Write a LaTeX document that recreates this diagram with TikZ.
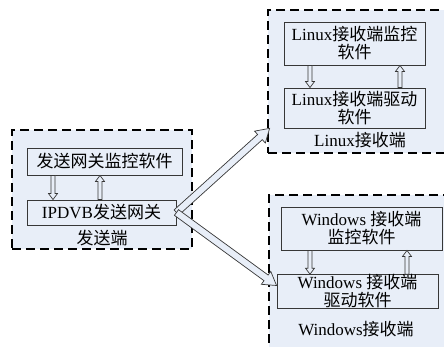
\documentclass[tikz,border=0pt]{standalone}
\usepackage{fontspec}
\setmainfont{Liberation Serif}
\newfontfamily\cjk{Noto Sans CJK SC}
\usetikzlibrary{calc}
\definecolor{bgblue}{RGB}{232,238,248}
\definecolor{edgegray}{RGB}{55,55,55}
\tikzset{
 group/.style={draw=black, line width=2.6pt, dash pattern=on 9pt off 5pt, fill=bgblue, inner sep=0pt},
 unit/.style={draw=edgegray, line width=0.9pt, fill=bgblue, inner sep=0pt, align=center, font=\fontsize{17}{18}\selectfont},
 lbl/.style={inner sep=0pt, align=center, font=\fontsize{17}{18}\selectfont},
 harrow/.style={draw=edgegray, line width=0.7pt, fill=bgblue, line join=miter},
}
\newcommand\hollowarrow[5]{%
 \path let \p1=(#1), \p2=(#2), \n1={atan2(\y2-\y1,\x2-\x1)}, \n2={veclen(\x2-\x1,\y2-\y1)} in \pgfextra{\xdef\harang{\n1}\xdef\harlen{\n2}};
 \begin{scope}[shift={(#1)}, rotate=\harang, x=1pt, y=1pt]
 \draw[harrow] (0,-#3) -- ({\harlen-#5},-#3) -- ({\harlen-#5},-#4) -- (\harlen,0) -- ({\harlen-#5},#4) -- ({\harlen-#5},#3) -- (0,#3) -- cycle;
 \end{scope}}
\begin{document}
\begin{tikzpicture}[x=1pt,y=-1pt]
\useasboundingbox (0,0) rectangle (444,346);
\clip (0,0) rectangle (444,346);
% groups
\node[group, minimum width=180pt, minimum height=119pt] (gs) at (102,189.5) {};
\node[group, minimum width=182pt, minimum height=143pt] (gl) at (359,81.5) {};
\node[group, minimum width=181pt, minimum height=157pt] (gw) at (359.5,273.5) {};
% sender
\node[unit, minimum width=155pt, minimum height=27pt] (A) at (104.5,161.5) {{\cjk 发送网关监控软件}};
\node[unit, minimum width=149pt, minimum height=25pt] (B) at (101.5,212.5) {IPDVB{\cjk 发送网关}};
\node[lbl] (ls) at (102,238) {{\cjk 发送端}};
% linux
\node[unit, minimum width=141pt, minimum height=43pt] (C) at (354.5,43.5) {Linux{\cjk 接收端监控}\\{\cjk 软件}};
\node[unit, minimum width=141pt, minimum height=40pt] (D) at (354.5,108) {Linux{\cjk 接收端驱动}\\{\cjk 软件}};
\node[lbl] (ll) at (360,140) {Linux{\cjk 接收端}};
% windows
\node[unit, minimum width=161pt, minimum height=43pt] (E) at (361.5,228.5) {Windows {\cjk 接收端}\\{\cjk 监控软件}};
\node[unit, minimum width=161pt, minimum height=33pt] (F) at (357.5,291.5) {Windows {\cjk 接收端}\\{\cjk 驱动软件}};
\node[lbl] (lw) at (356,329) {Windows{\cjk 接收端}};
% small arrows
\coordinate (a1) at (A.south -| 53,0);
\coordinate (b1) at (B.north -| 53,0);
\coordinate (a2) at (A.south -| 100,0);
\coordinate (b2) at (B.north -| 100,0);
\hollowarrow{a1}{b1}{2}{4.5}{6}
\hollowarrow{b2}{a2}{2}{4.5}{6}
\coordinate (c1) at (C.south -| 310,0);
\coordinate (d1) at (D.north -| 310,0);
\coordinate (c2) at (C.south -| 400,0);
\coordinate (d2) at (D.north -| 400,0);
\hollowarrow{c1}{d1}{2}{4.5}{6}
\hollowarrow{d2}{c2}{2}{4.5}{6}
\coordinate (e1) at (E.south -| 310,0);
\coordinate (f1) at (F.north -| 310,0);
\coordinate (e2) at (E.south -| 407,0);
\coordinate (f2) at (F.north -| 407,0);
\hollowarrow{e1}{f1}{2}{4.5}{6}
\hollowarrow{f2}{e2}{2}{4.5}{6}
% big arrows
\coordinate (t1) at (270,128);
\coordinate (t2) at ($(F.west)+(0,-6)$);
\hollowarrow{B.east}{t1}{3.5}{8}{13}
\hollowarrow{B.east}{t2}{3.5}{8}{13}
\end{tikzpicture}
\end{document}
